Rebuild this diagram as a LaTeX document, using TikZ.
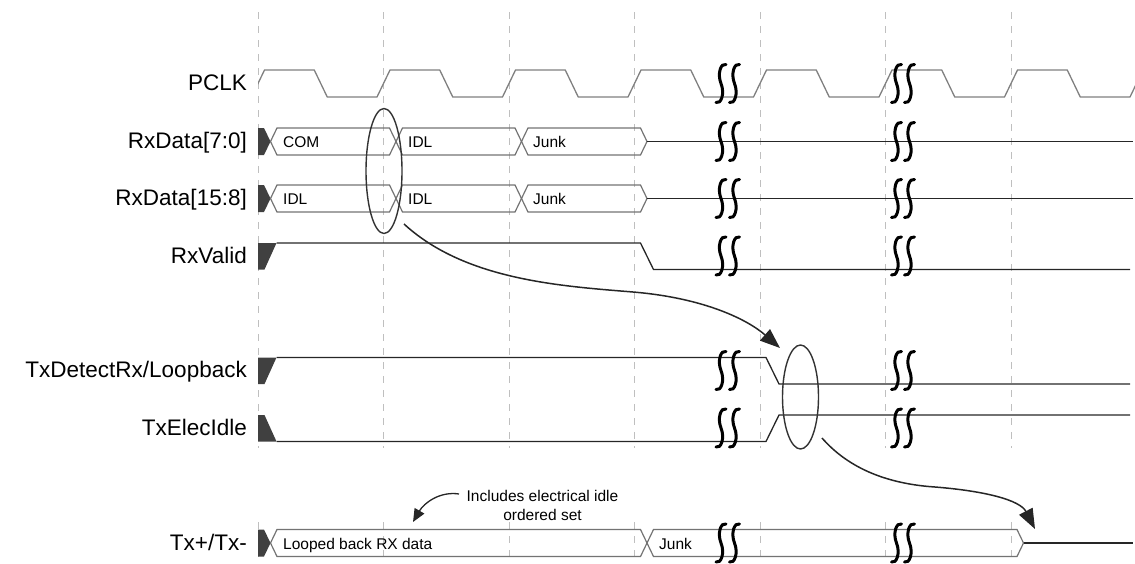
\documentclass[tikz,border=0pt]{standalone}
\usepackage{fontspec}
\setmainfont{Liberation Sans}
\usepackage{tikz}
\usetikzlibrary{arrows.meta,shapes.geometric}

% one bus value: start, end, row centre
\newcommand{\busval}[3]{%
  \draw[bus] (#1,#3) -- ({#1+6.5},{#3-13.5}) -- ({#2-6.5},{#3-13.5})
    -- (#2,#3) -- ({#2-6.5},{#3+13.5}) -- ({#1+6.5},{#3+13.5}) -- cycle;}
% undefined bus value before the first transition
\newcommand{\busundef}[1]{%
  \fill[undef] (258,{#1-13.5}) -- (264,{#1-13.5}) -- (270.5,#1)
    -- (264,{#1+13.5}) -- (258,{#1+13.5}) -- cycle;}

\begin{document}
\begin{tikzpicture}[
  x=1pt, y=-1pt,
  font=\fontsize{15.5}{19}\selectfont,
  sig/.style={anchor=base east, inner sep=0pt, font=\fontsize{22.5}{26}\selectfont},
  val/.style={anchor=base west, inner sep=0pt},
  gridline/.style={draw=black!25, line width=1pt, dash pattern=on 7pt off 7pt},
  clk/.style={draw=black!50, line width=1.3pt},
  lvl/.style={draw=black!85, line width=1.3pt},
  bus/.style={draw=black!55, line width=1.2pt},
  undef/.style={fill=black!75, draw=none},
  brkline/.style={draw=black, line width=3pt, line cap=round},
  sel/.style={ellipse, draw=black!80, line width=1.4pt, inner sep=0pt},
  arr/.style={-{Triangle[length=20pt,width=15pt]}, line width=1.5pt, draw=black!85}
]
\useasboundingbox (0,0) rectangle (1135,563);

% time grid
\foreach \k in {0,...,6} {
  \draw[gridline] ({258+125.5*\k},12) -- ({258+125.5*\k},448);
  \draw[gridline] ({258+125.5*\k},522) -- ({258+125.5*\k},563);
}

% signal names
\node[sig] (lclk)   at (247,90.5)  {PCLK};
\node[sig] (lrxlo)  at (247,148.5) {RxData[7:0]};
\node[sig] (lrxhi)  at (247,205.5) {RxData[15:8]};
\node[sig] (lrxv)   at (247,263)   {RxValid};
\node[sig] (ltxdet) at (247,377.5) {TxDetectRx/Loopback};
\node[sig] (ltxei)  at (247,435)   {TxElecIdle};
\node[sig] (ltx)    at (247,550)   {Tx+/Tx-};

% PCLK
\begin{scope}
  \clip (258,0) rectangle (1135,563);
  \draw[clk] (251.5,97) \foreach \k in {0,...,7} {
    -- ({251.5+125.5*\k},97) -- ({264.5+125.5*\k},70)
    -- ({314.25+125.5*\k},70) -- ({327.25+125.5*\k},97) };
\end{scope}

% RxData[7:0]
\busundef{141.5}
\busval{270.5}{396}{141.5}
\busval{396}{521.5}{141.5}
\busval{521.5}{647}{141.5}
\draw[lvl] (647,141.5) -- (1133,141.5);
\node[val] (lo1) at (283,147.5) {COM};
\node[val] (lo2) at (408,147.5) {IDL};
\node[val] (lo3) at (533,147.5) {Junk};

% RxData[15:8]
\busundef{198.5}
\busval{270.5}{396}{198.5}
\busval{396}{521.5}{198.5}
\busval{521.5}{647}{198.5}
\draw[lvl] (647,198.5) -- (1133,198.5);
\node[val] (hi1) at (283,204.5) {IDL};
\node[val] (hi2) at (408,204.5) {IDL};
\node[val] (hi3) at (533,204.5) {Junk};

% RxValid
\fill[undef] (258,243) -- (276.5,243) -- (264.5,269.5) -- (258,269.5) -- cycle;
\draw[lvl] (276.5,243) -- (640.5,243) -- (653.5,269.5) -- (1130,269.5);

% TxDetectRx/Loopback
\fill[undef] (258,357.5) -- (276.5,357.5) -- (264.5,384) -- (258,384) -- cycle;
\draw[lvl] (276.5,357.5) -- (766,357.5) -- (779,384) -- (1130,384);

% TxElecIdle
\fill[undef] (258,415) -- (264.5,415) -- (276.5,441.5) -- (258,441.5) -- cycle;
\draw[lvl] (276.5,441.5) -- (766,441.5) -- (779,415) -- (1130,415);

% Tx+/Tx-
\busundef{543}
\busval{270.5}{647}{543}
\busval{647}{1023.5}{543}
\draw[lvl] (1023.5,543) -- (1133,543);
\node[val] (tx1) at (283,549) {Looped back RX data};
\node[val] (tx2) at (659,549) {Junk};

% time breaks
\foreach \ry in {83.5,141.5,198.5,256,370.5,428,543}
  \foreach \bx in {721,734.5,896.5,909.5}
    \draw[brkline, shift={(\bx,\ry)}] (5,-19) .. controls (0,-21) and (-4,-10) .. (0,0)
      .. controls (4,10) and (0,21) .. (-5,19);

% highlighted transitions
\node[sel, minimum width=36pt, minimum height=125pt] (selrx) at (384,171) {};
\node[sel, minimum width=36pt, minimum height=104pt] (seltx) at (800.5,397) {};
\coordinate (rxout) at (404,224);
\coordinate (txin) at (780,348);
\coordinate (txout) at (822,438);
\coordinate (txend) at (1035,529);
\draw[arr] (rxout) .. controls (465,280) and (560,286) .. (633,292)
  .. controls (705,298) and (748,320) .. (txin);
\draw[arr] (txout) .. controls (850,470) and (890,484) .. (935,487)
  .. controls (985,491) and (1020,500) .. (txend);

% note
\node[align=center] (note) at (542.5,505) {Includes electrical idle\\ordered set};
\coordinate (noteout) at (459,494);
\coordinate (notetip) at (413,522);
\draw[arr, line width=1.3pt, -{Triangle[length=13pt,width=11pt]}] (noteout)
  .. controls (440,491) and (424,503) .. (notetip);
\end{tikzpicture}
\end{document}
